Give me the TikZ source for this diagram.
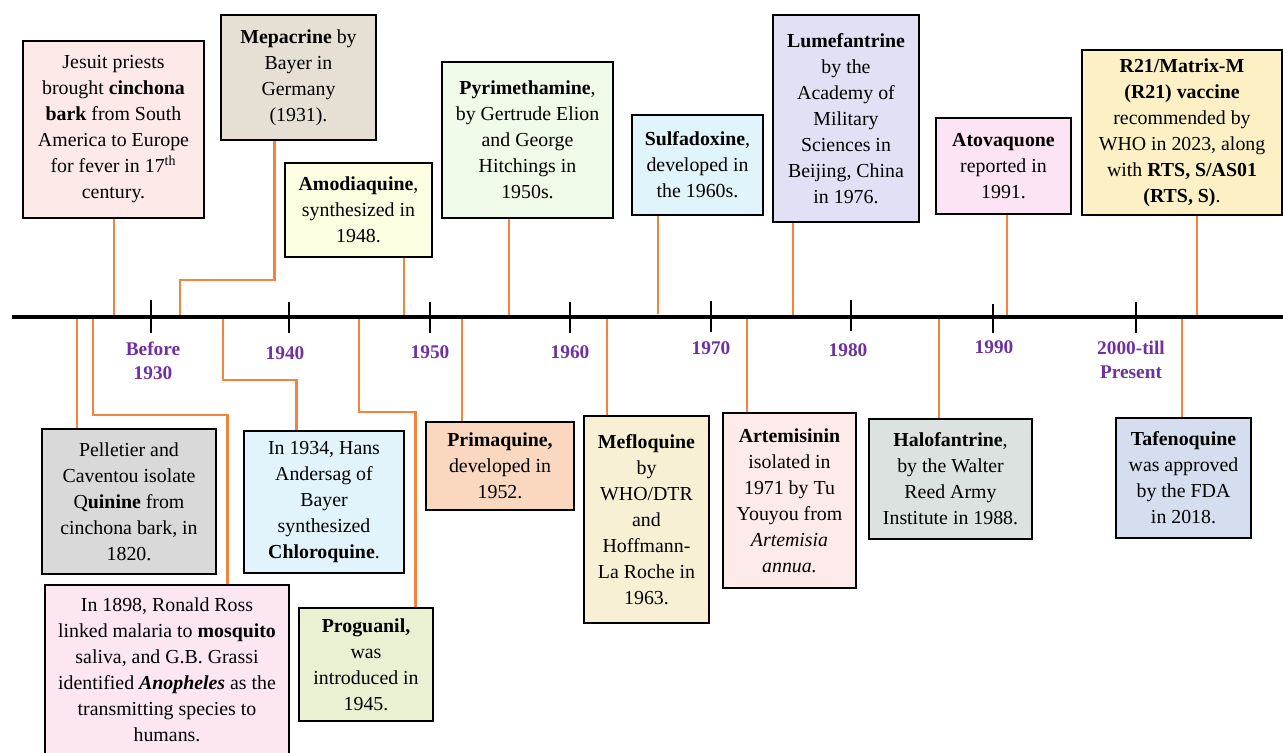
\documentclass[tikz,border=0pt]{standalone}
\usepackage{fontspec}
\setmainfont{Liberation Serif}
\usetikzlibrary{positioning}

\definecolor{linkorange}{HTML}{F5843A}
\definecolor{yearpurple}{HTML}{7030A0}
\definecolor{fjesuit}{HTML}{FDEAE8}
\definecolor{fmepa}{HTML}{E6E0D4}
\definecolor{famodia}{HTML}{FDFDE2}
\definecolor{fpyri}{HTML}{F0FAE8}
\definecolor{fsulfa}{HTML}{E0F4FC}
\definecolor{flume}{HTML}{E2E0F4}
\definecolor{fatova}{HTML}{FCE4F4}
\definecolor{fvacc}{HTML}{FCF0C4}
\definecolor{fpell}{HTML}{D9D9D9}
\definecolor{fross}{HTML}{FCE6F2}
\definecolor{fanders}{HTML}{E1F3FB}
\definecolor{fprogu}{HTML}{EAF0D2}
\definecolor{fprima}{HTML}{FAD8C0}
\definecolor{fmeflo}{HTML}{F8F0D4}
\definecolor{fartemi}{HTML}{FDEAEA}
\definecolor{fhalo}{HTML}{DCE2E0}
\definecolor{ftafeno}{HTML}{D4DEEE}

\begin{document}
\begin{tikzpicture}[x=0.02cm, y=-0.02cm,
  evbox/.style={draw, line width=1.6pt, align=center, inner sep=0pt,
    font=\fontsize{11.3}{14.8}\selectfont},
  link/.style={draw=linkorange, line width=1.3pt},
  year/.style={text=yearpurple, align=center,
    font=\fontsize{11}{13.6}\selectfont\bfseries},
  yeartick/.style={line width=1.4pt}]
  \useasboundingbox (0,0) rectangle (1283,752);

  % boxes above the axis
  \node[evbox, fill=fjesuit, minimum width=3.62cm, minimum height=3.54cm] (jesuit) at (113.5,129.5)
    {Jesuit priests\\brought \textbf{cinchona}\\\textbf{bark} from South\\America to Europe\\for fever in 17\textsuperscript{th}\\century.};
  \node[evbox, fill=fmepa, minimum width=3.10cm, minimum height=2.50cm] (mepa) at (298.5,77.5)
    {\textbf{Mepacrine} by\\Bayer in\\Germany\\(1931).};
  \node[evbox, fill=famodia, minimum width=2.94cm, minimum height=1.88cm] (amodia) at (358.5,210)
    {\textbf{Amodiaquine},\\synthesized in\\1948.};
  \node[evbox, fill=fpyri, minimum width=3.42cm, minimum height=3.12cm] (pyri) at (527.5,140)
    {\textbf{Pyrimethamine},\\by Gertrude Elion\\and George\\Hitchings in\\1950s.};
  \node[evbox, fill=fsulfa, minimum width=2.62cm, minimum height=2.00cm] (sulfa) at (697.5,165)
    {\textbf{Sulfadoxine},\\developed in\\the 1960s.};
  \node[evbox, fill=flume, minimum width=2.92cm, minimum height=4.14cm] (lume) at (846,118.5)
    {\textbf{Lumefantrine}\\by the\\Academy of\\Military\\Sciences in\\Beijing, China\\in 1976.};
  \node[evbox, fill=fatova, minimum width=2.70cm, minimum height=1.92cm] (atova) at (1003.5,166)
    {\textbf{Atovaquone}\\reported in\\1991.};
  \node[evbox, fill=fvacc, minimum width=4.00cm, minimum height=3.30cm] (vacc) at (1182,132.5)
    {\textbf{R21/Matrix-M}\\\textbf{(R21) vaccine}\\recommended by\\WHO in 2023, along\\with \textbf{RTS, S/AS01}\\\textbf{(RTS, S)}.};

  % boxes below the axis
  \node[evbox, fill=fpell, minimum width=3.48cm, minimum height=2.90cm] (pell) at (129,501.5)
    {Pelletier and\\Caventou isolate\\Q\textbf{uinine} from\\cinchona bark, in\\1820.};
  \node[evbox, fill=fross, minimum width=4.88cm, minimum height=3.40cm] (ross) at (167,670)
    {In 1898, Ronald Ross\\linked malaria to \textbf{mosquito}\\saliva, and G.B. Grassi\\identified \textbf{\textit{Anopheles}} as the\\transmitting species to\\humans.};
  \node[evbox, fill=fanders, minimum width=3.20cm, minimum height=2.84cm] (anders) at (324,502)
    {In 1934, Hans\\Andersag of\\Bayer\\synthesized\\\textbf{Chloroquine}.};
  \node[evbox, fill=fprogu, minimum width=2.68cm, minimum height=2.26cm] (progu) at (366,664.5)
    {\textbf{Proguanil,}\\was\\introduced in\\1945.};
  \node[evbox, fill=fprima, minimum width=2.96cm, minimum height=1.76cm] (prima) at (500,466)
    {\textbf{Primaquine,}\\developed in\\1952.};
  \node[evbox, fill=fmeflo, minimum width=2.50cm, minimum height=4.14cm] (meflo) at (646.5,519.5)
    {\textbf{Mefloquine}\\by\\WHO/DTR\\and\\Hoffmann-\\La Roche in\\1963.};
  \node[evbox, fill=fartemi, minimum width=2.66cm, minimum height=3.50cm] (artemi) at (789.5,500.5)
    {\textbf{Artemisinin}\\isolated in\\1971 by Tu\\Youyou from\\\textit{Artemisia}\\\textit{annua.}};
  \node[evbox, fill=fhalo, minimum width=3.26cm, minimum height=2.40cm] (halo) at (950.5,479)
    {\textbf{Halofantrine},\\by the Walter\\Reed Army\\Institute in 1988.};
  \node[evbox, fill=ftafeno, minimum width=2.70cm, minimum height=2.40cm] (tafeno) at (1183.5,478)
    {\textbf{Tafenoquine}\\was approved\\by the FDA\\in 2018.};

  % points on the axis
  \coordinate (a-jesuit) at (114,317);
  \coordinate (a-mepa) at (180,317);
  \coordinate (a-amodia) at (404,317);
  \coordinate (a-pyri) at (509,317);
  \coordinate (a-sulfa) at (658,314);
  \coordinate (a-lume) at (793,317);
  \coordinate (a-atova) at (1007,317);
  \coordinate (a-vacc) at (1197,317);
  \coordinate (a-pell) at (77,317);
  \coordinate (a-ross) at (93,317);
  \coordinate (a-anders) at (223,317);
  \coordinate (a-progu) at (359,317);
  \coordinate (a-prima) at (462,317);
  \coordinate (a-meflo) at (607,317);
  \coordinate (a-artemi) at (747,317);
  \coordinate (a-halo) at (939,317);
  \coordinate (a-tafeno) at (1182,317);

  % connectors
  \draw[link] (a-jesuit) -- (a-jesuit |- jesuit.south);
  \draw[link] (a-mepa) -- ++(0,-37) -| ([xshift=1.10cm]mepa.south west);
  \draw[link] (a-amodia) -- (a-amodia |- amodia.south);
  \draw[link] (a-pyri) -- (a-pyri |- pyri.south);
  \draw[link] (a-sulfa) -- (a-sulfa |- sulfa.south);
  \draw[link] (a-lume) -- (a-lume |- lume.south);
  \draw[link] (a-atova) -- (a-atova |- atova.south);
  \draw[link] (a-vacc) -- (a-vacc |- vacc.south);
  \draw[link] (a-pell) -- (a-pell |- pell.north);
  \draw[link] (a-ross) -- ++(0,98) -| ([xshift=3.68cm]ross.north west);
  \draw[link] (a-anders) -- ++(0,63) -| ([xshift=1.08cm]anders.north west);
  \draw[link] (a-progu) -- ++(0,95) -| ([xshift=2.36cm]progu.north west);
  \draw[link] (a-prima) -- (a-prima |- prima.north);
  \draw[link] (a-meflo) -- (a-meflo |- meflo.north);
  \draw[link] (a-artemi) -- (a-artemi |- artemi.north);
  \draw[link] (a-halo) -- (a-halo |- halo.north);
  \draw[link] (a-tafeno) -- (a-tafeno |- tafeno.north);

  % axis and ticks
  \draw[line width=2.8pt] (12,317) -- (1283,317);
  \draw[yeartick] (151,300) -- (151,333);
  \draw[yeartick] (289,302) -- (289,333);
  \draw[yeartick] (430,302) -- (430,333);
  \draw[yeartick] (570,302) -- (570,333);
  \draw[yeartick] (711,301) -- (711,332);
  \draw[yeartick] (851,300) -- (851,331);
  \draw[yeartick] (993,304) -- (993,333);
  \draw[yeartick] (1136,302) -- (1136,333);

  % year labels
  \node[year] (y1930) at (153,361) {Before\\1930};
  \node[year] (y1940) at (285,353) {1940};
  \node[year] (y1950) at (430,352) {1950};
  \node[year] (y1960) at (570,352) {1960};
  \node[year] (y1970) at (711,348) {1970};
  \node[year] (y1980) at (848,350) {1980};
  \node[year] (y1990) at (994,347) {1990};
  \node[year] (y2000) at (1131,360) {2000-till\\Present};
\end{tikzpicture}
\end{document}
